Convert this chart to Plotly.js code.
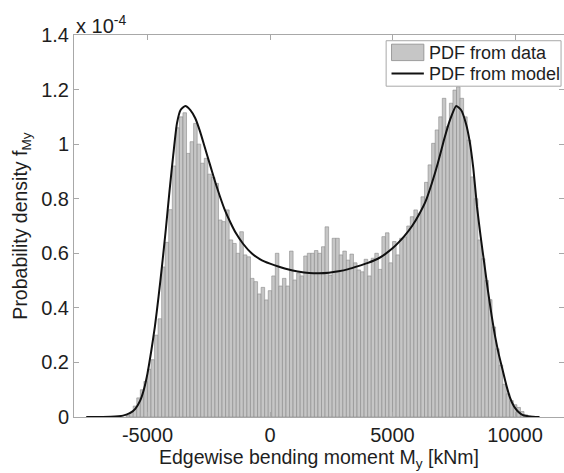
<!DOCTYPE html>
<html><head><meta charset="utf-8">
<script src="https://cdn.plot.ly/plotly-3.0.1.min.js"></script>
<style>html,body{margin:0;padding:0;background:#fff}#chart{width:564px;height:473px}</style>
</head><body><div id="chart"></div>
<script>
// Histogram of edgewise bending moment (density values in units of 1e-4)
const binStart = -5800;   // centre of first bin [kNm]
const binWidth = 145;     // bin width [kNm]
const pdfData = [
  0.006, 0.018, 0.04, 0.07, 0.10, 0.13, 0.175, 0.21, 0.30, 0.36,
  0.55, 0.64, 0.76, 0.92, 1.06, 1.10, 1.115, 0.966, 1.009, 1.076,
  1.0, 0.93, 0.948, 0.89, 0.878, 0.856, 0.722, 0.716, 0.759, 0.649,
  0.636, 0.60, 0.679, 0.594, 0.587, 0.508, 0.496, 0.451, 0.475, 0.429,
  0.463, 0.517, 0.60, 0.48, 0.508, 0.48, 0.608, 0.502, 0.527, 0.517,
  0.59, 0.60, 0.60, 0.61, 0.60, 0.624, 0.697, 0.52, 0.655, 0.655,
  0.594, 0.608, 0.575, 0.597, 0.565, 0.539, 0.532, 0.578, 0.517, 0.582,
  0.60, 0.541, 0.661, 0.675, 0.565, 0.643, 0.594, 0.655, 0.66, 0.70,
  0.734, 0.759, 0.747, 0.807, 0.86, 0.924, 1.003, 1.052, 1.10, 1.168,
  1.064, 1.15, 1.198, 1.21, 1.168, 1.10, 1.015, 0.88, 0.80, 0.649,
  0.58, 0.50, 0.43, 0.33, 0.25, 0.19, 0.12, 0.085, 0.06, 0.045,
  0.035, 0.02, 0.008, 0.003
];
// Model PDF curve
const modelX = [
  -7500, -6500, -6000, -5700, -5500, -5300, -5150, -5000, -4850, -4700,
  -4550, -4400, -4250, -4100, -3950, -3800, -3650, -3456, -3250, -3050,
  -2850, -2650, -2450, -2250, -2050, -1850, -1600, -1400, -1100, -750,
  -400, 0, 400, 800, 1200, 1600, 2000, 2400, 2800, 3200,
  3600, 4000, 4400, 4700, 5000, 5250, 5500, 5800, 6100, 6350,
  6600, 6850, 7100, 7350, 7600, 7800, 8000, 8150, 8300, 8450,
  8600, 8750, 8900, 9050, 9200, 9350, 9500, 9650, 9800, 9950,
  10100, 10300, 10600, 11000
];
const modelY = [
  0, 0.001, 0.005, 0.015, 0.03, 0.06, 0.10, 0.16, 0.24, 0.33,
  0.44, 0.56, 0.69, 0.83, 0.96, 1.075, 1.125, 1.14, 1.125, 1.095,
  1.045, 0.985, 0.925, 0.865, 0.81, 0.76, 0.71, 0.675, 0.635, 0.60,
  0.578, 0.562, 0.55, 0.54, 0.532, 0.528, 0.527, 0.529, 0.534, 0.542,
  0.553, 0.565, 0.58, 0.597, 0.618, 0.64, 0.665, 0.70, 0.745, 0.79,
  0.855, 0.93, 1.015, 1.09, 1.14, 1.125, 1.075, 1.01, 0.91, 0.77,
  0.66, 0.56, 0.46, 0.37, 0.29, 0.225, 0.17, 0.115, 0.07, 0.04,
  0.022, 0.008, 0.002, 0
];
const xTickVals = [-5000, 0, 5000, 10000];
const xTickText = ['-5000', '0', '5000', '10000'];
const yTickVals = [0, 0.2, 0.4, 0.6, 0.8, 1, 1.2, 1.4];
const yTickText = ['0', '0.2', '0.4', '0.6', '0.8', '1', '1.2', '1.4'];
const legendLabels = ['PDF from data', 'PDF from model'];

const FONT = 'Liberation Sans, Arial, sans-serif';
const TXT = '#1e1e1e';
const BAR_FILL = '#c6c6c6', BAR_EDGE = '#8a8a8a', AX = '#a8a8a8';
const traces = [
  {
    type: 'bar', name: legendLabels[0],
    x0: binStart, dx: binWidth, y: pdfData,
    marker: {color: BAR_FILL, line: {color: BAR_EDGE, width: 0.6}},
    hoverinfo: 'skip', showlegend: false
  },
  {
    type: 'scatter', mode: 'lines', name: legendLabels[1],
    x: modelX, y: modelY, line: {color: '#111', width: 2, shape: 'spline', smoothing: 0.5},
    hoverinfo: 'skip', showlegend: false
  }
];
const axisCommon = {
  showline: true, linecolor: AX, linewidth: 1, mirror: 'ticks',
  ticks: 'inside', ticklen: 5, tickcolor: AX, showgrid: false, zeroline: false,
  tickfont: {family: FONT, size: 20, color: TXT}
};
// legend drawn as a box inside the plot (paper coordinates)
const lg = {x0: 0.637, x1: 0.994, y0: 0.866, y1: 0.985};
const layout = {
  width: 564, height: 473,
  margin: {l: 74, r: 0, t: 35, b: 56},
  paper_bgcolor: '#fff', plot_bgcolor: '#fff',
  bargap: 0,
  font: {family: FONT, color: TXT},
  xaxis: Object.assign({}, axisCommon, {
    range: [-8000, 12000], tickvals: xTickVals, ticktext: xTickText,
    title: {text: 'Edgewise bending moment M<sub>y</sub> [kNm]', font: {family: FONT, size: 19.5, color: TXT}, standoff: 4}
  }),
  yaxis: Object.assign({}, axisCommon, {
    range: [0, 1.4], tickvals: yTickVals, ticktext: yTickText,
    title: {text: 'Probability density f<sub>My</sub>', font: {family: FONT, size: 19.5, color: TXT}, standoff: 8}
  }),
  showlegend: false,
  shapes: [
    {type: 'rect', xref: 'paper', yref: 'paper', x0: lg.x0, x1: lg.x1, y0: lg.y0, y1: lg.y1,
     fillcolor: '#fff', line: {color: AX, width: 1}, layer: 'above'},
    {type: 'rect', xref: 'paper', yref: 'paper', x0: 0.648, x1: 0.714, y0: 0.933, y1: 0.976,
     fillcolor: BAR_FILL, line: {color: BAR_EDGE, width: 0.8}, layer: 'above'},
    {type: 'line', xref: 'paper', yref: 'paper', x0: 0.648, x1: 0.714, y0: 0.8995, y1: 0.8995,
     line: {color: '#111', width: 2}, layer: 'above'}
  ],
  annotations: [
    {xref: 'paper', yref: 'paper', x: 0, y: 1, xanchor: 'left', yanchor: 'bottom',
     text: 'x 10<sup>-4</sup>', showarrow: false, yshift: -4,
     font: {family: FONT, size: 20, color: TXT}},
    {xref: 'paper', yref: 'paper', x: 0.721, y: 0.954, xanchor: 'left', yanchor: 'middle',
     text: legendLabels[0], showarrow: false, font: {family: FONT, size: 18, color: TXT}},
    {xref: 'paper', yref: 'paper', x: 0.721, y: 0.899, xanchor: 'left', yanchor: 'middle',
     text: legendLabels[1], showarrow: false, font: {family: FONT, size: 18, color: TXT}}
  ]
};
Plotly.newPlot('chart', traces, layout, {displayModeBar: false, staticPlot: true});
</script>
</body></html>
